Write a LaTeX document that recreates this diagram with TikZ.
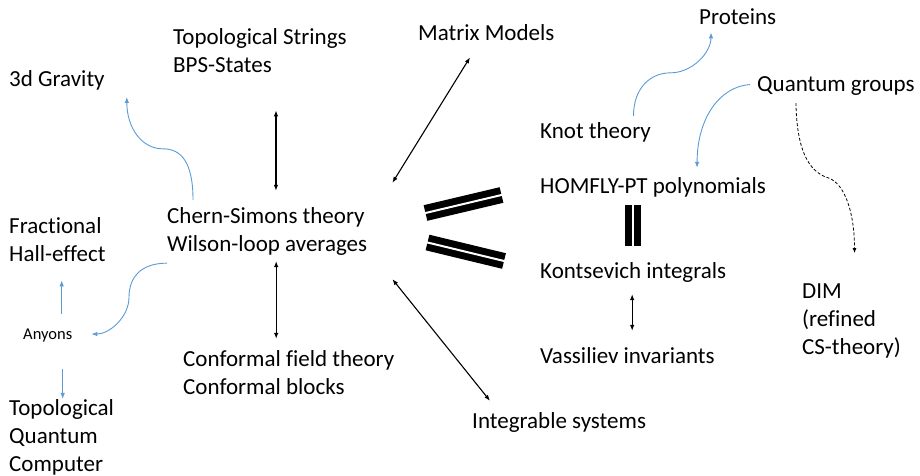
\documentclass[tikz,border=0pt]{standalone}
\usepackage{fontspec}
\setmainfont[Ligatures={CommonOff}]{Carlito}
\usetikzlibrary{arrows.meta,calc}

\definecolor{linkblue}{RGB}{91,155,213}

\tikzset{
  lbl/.style={inner sep=0pt, anchor=base west, align=left,
              font=\fontsize{23}{28}\selectfont},
  smalllbl/.style={inner sep=0pt, anchor=base west,
              font=\fontsize{16.5}{20}\selectfont},
  dbl/.style={line width=1.1pt, {Latex[length=6pt,width=4.5pt]}-{Latex[length=6pt,width=4.5pt]}},
  bluelink/.style={draw=linkblue, line width=0.9pt, -{Latex[length=6pt,width=4.5pt]}},
  dashlink/.style={draw=black, line width=0.8pt, dash pattern=on 3pt off 2pt,
              -{Latex[length=5pt,width=4pt]}},
  eqbar/.style={line width=16pt, line cap=butt},
  eqgap/.style={draw=white, line width=2pt, line cap=butt, shorten <=-1pt, shorten >=-1pt}
}

\begin{document}
\begin{tikzpicture}[x=1pt, y=-1pt]
  \path[use as bounding box] (0,0) rectangle (920,476);

  % labels (a multi-line label sits on the baseline of its last line)
  \node[lbl] (ts)     at (173,73)  {Topological Strings\\BPS-States};
  \node[lbl] (mm)     at (418,41)  {Matrix Models};
  \node[lbl] (grav)   at (9,87)    {3d Gravity};
  \node[lbl] (prot)   at (699,25)  {Proteins};
  \node[lbl] (qg)     at (757,92)  {Quantum groups};
  \node[lbl] (knot)   at (540,138) {Knot theory};
  \node[lbl] (homfly) at (540,193) {HOMFLY-PT polynomials};
  \node[lbl] (cs)     at (167,251) {Chern-Simons theory\\Wilson-loop averages};
  \node[lbl] (frac)   at (9,261)   {Fractional\\Hall-effect};
  \node[smalllbl] (any) at (23,339) {Anyons};
  \node[lbl] (kont)   at (540,278) {Kontsevich integrals};
  \node[lbl] (dim)    at (802,354) {DIM\\(refined\\CS-theory)};
  \node[lbl] (vass)   at (540,363) {Vassiliev invariants};
  \node[lbl] (cft)    at (183,394) {Conformal field theory\\Conformal blocks};
  \node[lbl] (integ)  at (472,428) {Integrable systems};
  \node[lbl] (tqc)    at (9,471)   {Topological\\Quantum\\Computer};

  % two-way links (black)
  \draw[dbl] ($(ts.south)+(16,37)$) -- ($(ts.south |- cs.north)+(16,-16)$);
  \draw[dbl] ($(cs.north east)+(25,-24)$) -- ($(mm.south west)+(52,16)$);
  \draw[dbl] ($(cs.south)+(9,6)$) -- ($(cs.south |- cft.north)+(9,-11)$);
  \draw[dbl] ($(cs.south east)+(25,24)$) -- ($(integ.north west)+(18,-11)$);
  \draw[dbl] ($(kont.south)+(-1,12)$) -- ($(kont.south |- vass.north)+(-1,-16)$);

  % applications (blue)
  \coordinate (b1s) at ($(cs.north west)+(26,-7)$);
  \coordinate (b1e) at ($(grav.south east)+(22,6)$);
  \draw[bluelink] (b1s) .. controls +(0,-38) and +(18,0) .. ++(-30,-51)
                        .. controls +(-22,0) and +(0,30) .. (b1e);

  \coordinate (b2s) at ($(cs.south west)+(0,8)$);
  \coordinate (b2e) at ($(any.east)+(19,-1)$);
  \draw[bluelink] (b2s) .. controls +(-28,0) and +(0,-18) .. ++(-38,34)
                        .. controls +(0,20) and +(18,0) .. (b2e);

  \draw[bluelink] ($(any.north)+(14,-14)$) -- ($(any.north |- frac.south)+(14,19)$);
  \draw[bluelink] ($(any.south)+(15,27)$) -- ($(any.south |- tqc.north)+(15,0)$);

  \coordinate (b5s) at ($(knot.north)+(38,-6)$);
  \coordinate (b5e) at ($(prot.south west)+(12,7)$);
  \draw[bluelink] (b5s) .. controls +(0,-28) and +(-20,0) .. ++(37,-43)
                        .. controls +(22,0) and +(0,20) .. (b5e);

  \coordinate (b6s) at ($(qg.west)+(-7,-2)$);
  \coordinate (b6e) at ($(homfly.north)+(44,-9)$);
  \draw[bluelink] (b6s) .. controls +(-30,2) and +(0,-50) .. (b6e);

  % refinement (dashed)
  \coordinate (d1s) at ($(qg.south)+(-40,7)$);
  \coordinate (d1e) at ($(dim.north)+(3,-30)$);
  \draw[dashlink] (d1s) .. controls +(1,55) and +(-16,-5) .. ++(33,75)
                        .. controls +(16,6) and +(0,-40) .. (d1e);

  % equivalence bars
  \draw[eqbar] (425.5,213) -- (501.5,195);
  \draw[eqgap] (425.5,213) -- (501.5,195);
  \draw[eqbar] (427.5,242.5) -- (504,261);
  \draw[eqgap] (427.5,242.5) -- (504,261);
  \draw[eqbar] (632.5,205) -- (632.5,245.5);
  \draw[eqgap] (632.5,205) -- (632.5,245.5);
\end{tikzpicture}
\end{document}
